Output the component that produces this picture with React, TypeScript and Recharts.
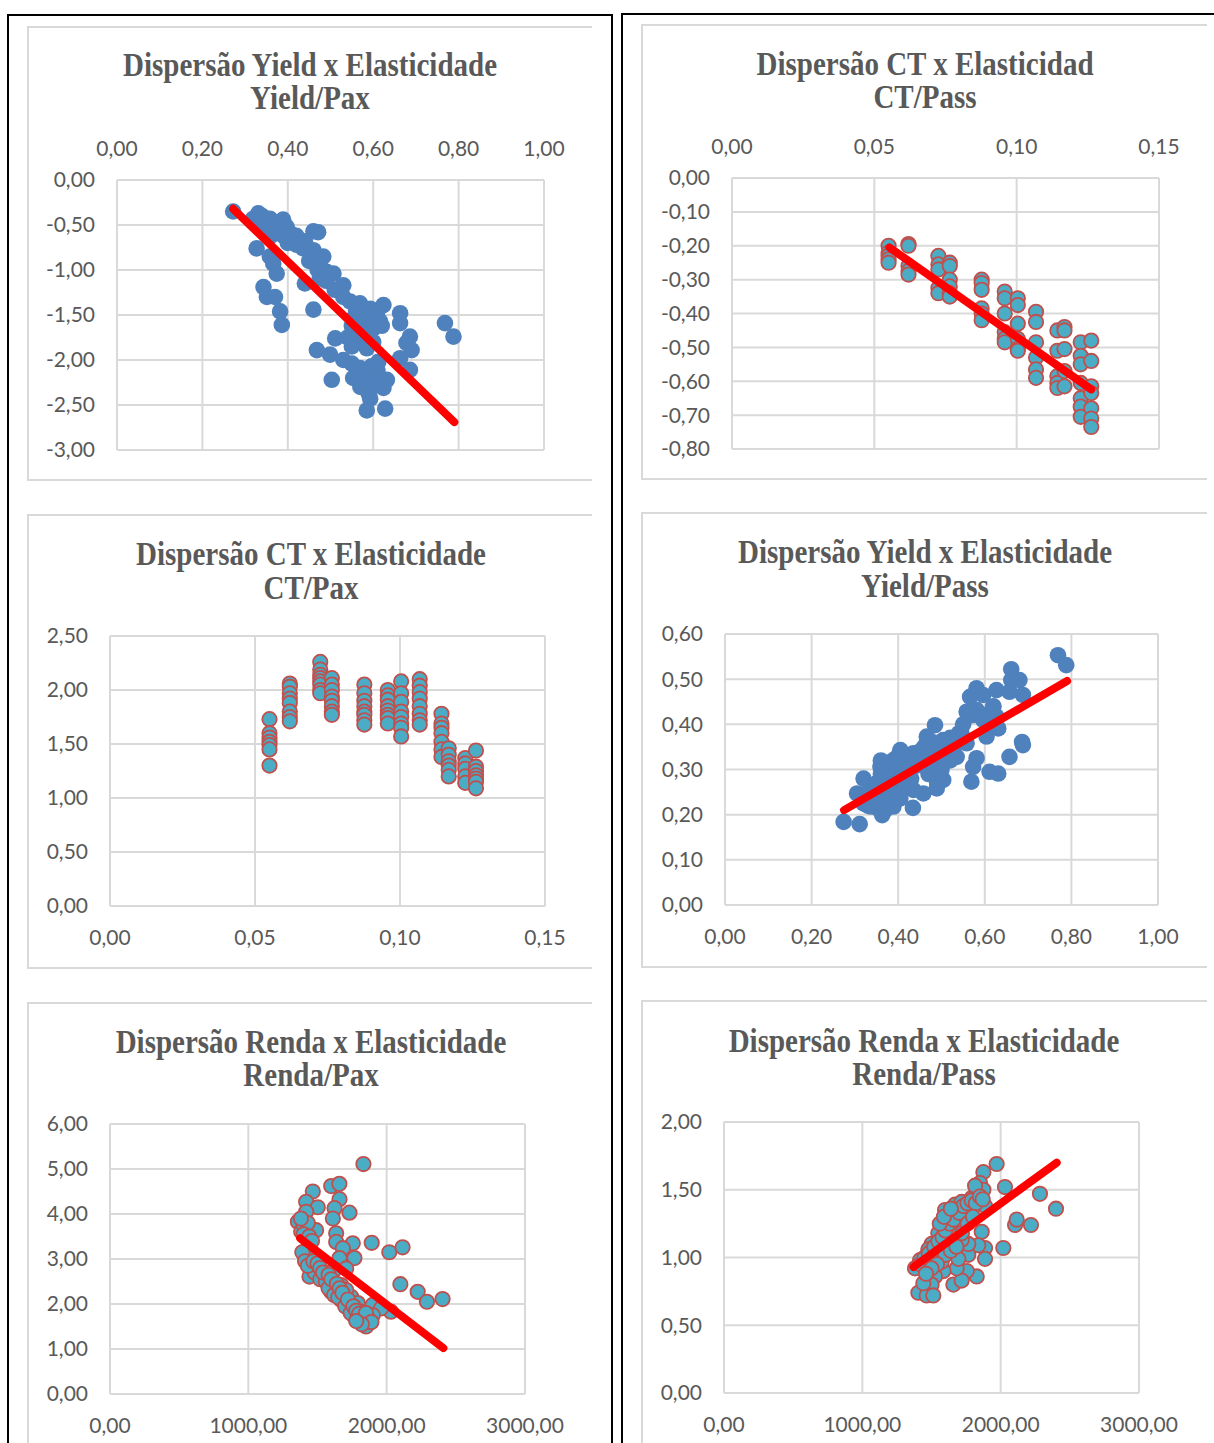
import React from 'react';
import { ScatterChart, Scatter, XAxis, YAxis, CartesianGrid } from 'recharts';

type Pt = [number, number];

// Yield x Elasticidade Yield/Pax
const yieldPaxPoints: Pt[] = [
  [0.272, -0.35], [0.331, -0.37], [0.358, -0.43], [0.389, -0.44], [0.397, -0.52], [0.382, -0.57],
  [0.405, -0.59], [0.351, -0.5], [0.319, -0.43], [0.366, -0.54], [0.413, -0.67], [0.46, -0.57],
  [0.471, -0.58], [0.327, -0.76], [0.358, -0.85], [0.374, -1.04], [0.366, -0.93], [0.421, -0.72],
  [0.436, -0.76], [0.46, -0.78], [0.483, -0.85], [0.475, -0.94], [0.491, -1.02], [0.507, -1.04],
  [0.44, -1.15], [0.475, -1.09], [0.53, -1.17], [0.343, -1.19], [0.351, -1.3], [0.37, -1.3],
  [0.382, -1.46], [0.386, -1.61], [0.46, -1.44], [0.546, -1.35], [0.569, -1.37], [0.593, -1.43],
  [0.624, -1.39], [0.608, -1.5], [0.616, -1.57], [0.553, -1.54], [0.577, -1.63], [0.6, -1.65],
  [0.663, -1.48], [0.663, -1.59], [0.686, -1.74], [0.678, -1.81], [0.69, -1.89], [0.768, -1.59],
  [0.788, -1.74], [0.468, -1.89], [0.499, -1.94], [0.511, -1.76], [0.53, -2.0], [0.55, -2.04],
  [0.569, -2.09], [0.596, -2.07], [0.612, -2.02], [0.503, -2.22], [0.553, -2.2], [0.577, -2.24],
  [0.608, -2.2], [0.624, -2.31], [0.632, -2.22], [0.663, -1.98], [0.686, -2.11], [0.593, -2.43],
  [0.585, -2.56], [0.628, -2.54], [0.569, -1.8], [0.585, -1.87], [0.34, -0.4], [0.37, -0.47],
  [0.39, -0.62], [0.4, -0.7], [0.36, -0.62], [0.45, -0.9], [0.47, -1.0], [0.49, -1.12],
  [0.51, -1.22], [0.53, -1.3], [0.56, -1.45], [0.58, -1.55], [0.56, -1.7], [0.58, -1.75],
  [0.6, -1.8], [0.58, -2.15], [0.6, -2.28], [0.57, -2.3], [0.61, -2.12], [0.59, -2.38],
  [0.35, -0.45], [0.38, -0.5], [0.42, -0.62], [0.44, -0.68], [0.33, -0.5],
  [0.57, -1.47], [0.59, -1.52], [0.61, -1.45], [0.55, -1.62], [0.57, -1.7], [0.59, -1.78],
  [0.62, -1.62], [0.54, -1.75], [0.55, -1.85],
];
const yieldPaxTrend: Pt[] = [[0.272, -0.32], [0.79, -2.69]];

// CT columns (same CT values in both CT charts)
const ctValues = [0.055, 0.062, 0.0725, 0.0765, 0.0877, 0.0958, 0.1004, 0.1068, 0.1143, 0.1168, 0.1225, 0.1262];

const ctPassByColumn: number[][] = [
  [-0.2, -0.22, -0.23, -0.24, -0.25],
  [-0.195, -0.2, -0.26, -0.275, -0.285],
  [-0.23, -0.255, -0.27, -0.325, -0.34],
  [-0.25, -0.26, -0.3, -0.32, -0.34, -0.35],
  [-0.3, -0.31, -0.33, -0.385, -0.4, -0.42],
  [-0.335, -0.355, -0.4, -0.455, -0.475, -0.485],
  [-0.355, -0.375, -0.43, -0.475, -0.505, -0.51],
  [-0.395, -0.425, -0.485, -0.53, -0.565, -0.59],
  [-0.45, -0.51, -0.585, -0.605, -0.62],
  [-0.44, -0.45, -0.505, -0.57, -0.615],
  [-0.485, -0.525, -0.55, -0.605, -0.65, -0.675, -0.705],
  [-0.48, -0.54, -0.615, -0.635, -0.68, -0.71, -0.735],
];
const ctPassTrend: Pt[] = [[0.0553, -0.205], [0.1262, -0.624]];

const ctPaxByColumn: number[][] = [
  [1.73, 1.6, 1.56, 1.52, 1.49, 1.45, 1.3],
  [2.06, 2.03, 1.97, 1.92, 1.88, 1.8, 1.75, 1.71],
  [2.26, 2.19, 2.14, 2.11, 2.08, 2.05, 2.0, 1.97],
  [2.11, 2.05, 2.0, 1.94, 1.9, 1.85, 1.8, 1.77],
  [2.05, 1.97, 1.9, 1.85, 1.8, 1.77, 1.72, 1.68],
  [2.0, 1.95, 1.91, 1.85, 1.81, 1.77, 1.74, 1.69],
  [2.08, 1.97, 1.89, 1.8, 1.75, 1.69, 1.65, 1.57],
  [2.1, 2.04, 1.98, 1.92, 1.85, 1.78, 1.72, 1.68],
  [1.78, 1.69, 1.65, 1.6, 1.52, 1.45, 1.38],
  [1.46, 1.4, 1.34, 1.3, 1.26, 1.2],
  [1.37, 1.32, 1.27, 1.2, 1.14],
  [1.44, 1.29, 1.25, 1.21, 1.18, 1.15, 1.09],
];

// Yield x Elasticidade Yield/Pass
const yieldPassPoints: Pt[] = [
  [0.274, 0.184], [0.311, 0.179], [0.769, 0.553], [0.788, 0.531], [0.661, 0.522], [0.661, 0.498],
  [0.68, 0.498], [0.657, 0.472], [0.688, 0.465], [0.581, 0.48], [0.566, 0.461], [0.596, 0.465],
  [0.627, 0.476], [0.558, 0.428], [0.581, 0.432], [0.619, 0.439], [0.627, 0.417], [0.596, 0.41],
  [0.631, 0.391], [0.604, 0.373], [0.546, 0.38], [0.558, 0.358], [0.485, 0.398], [0.466, 0.373],
  [0.504, 0.365], [0.527, 0.35], [0.688, 0.354], [0.686, 0.361], [0.657, 0.328], [0.581, 0.325],
  [0.573, 0.306], [0.611, 0.295], [0.631, 0.291], [0.569, 0.273], [0.535, 0.328], [0.405, 0.343],
  [0.389, 0.321], [0.435, 0.336], [0.474, 0.306], [0.504, 0.277], [0.489, 0.258], [0.458, 0.247],
  [0.435, 0.255], [0.32, 0.28], [0.305, 0.247], [0.359, 0.306], [0.374, 0.277], [0.351, 0.251],
  [0.405, 0.236], [0.389, 0.218], [0.363, 0.199], [0.336, 0.218], [0.32, 0.225], [0.363, 0.244],
  [0.351, 0.215], [0.434, 0.215], [0.33, 0.25], [0.37, 0.28], [0.39, 0.31], [0.42, 0.32],
  [0.45, 0.34], [0.47, 0.33], [0.5, 0.35], [0.52, 0.37], [0.54, 0.38], [0.36, 0.26],
  [0.4, 0.29], [0.43, 0.3], [0.47, 0.29], [0.49, 0.27], [0.45, 0.31],
  [0.34, 0.23], [0.35, 0.27], [0.38, 0.24], [0.38, 0.3], [0.4, 0.33], [0.41, 0.27],
  [0.42, 0.26], [0.36, 0.29], [0.33, 0.22], [0.37, 0.21], [0.39, 0.26], [0.41, 0.3],
  [0.44, 0.32], [0.46, 0.35], [0.48, 0.36], [0.49, 0.33], [0.51, 0.36], [0.53, 0.36],
  [0.55, 0.4], [0.57, 0.42], [0.6, 0.42], [0.62, 0.44], [0.5, 0.3], [0.52, 0.32],
  [0.43, 0.28], [0.36, 0.32],
];
const yieldPassTrend: Pt[] = [[0.275, 0.21], [0.79, 0.496]];

// Renda x Elasticidade Renda/Pax
const rendaPaxPoints: Pt[] = [
  [1832, 5.11], [1599, 4.62], [1658, 4.67], [1466, 4.5], [1418, 4.27], [1502, 4.15], [1659, 4.33],
  [1623, 4.13], [1731, 4.03], [1611, 3.9], [1418, 4.05], [1358, 3.83], [1442, 3.68], [1382, 3.61],
  [1490, 3.64], [1635, 3.57], [1635, 3.38], [1755, 3.35], [1892, 3.36], [2019, 3.15], [2115, 3.26],
  [1683, 3.24], [1767, 3.02], [1659, 3.02], [1406, 3.09], [1455, 2.9], [1502, 2.76], [1442, 2.61],
  [1550, 2.64], [1623, 2.76], [1707, 2.79], [1599, 2.46], [1671, 2.42], [1599, 2.27], [2099, 2.44],
  [2224, 2.27], [2291, 2.05], [2404, 2.11], [1671, 2.09], [1743, 2.16], [1791, 2.02], [1731, 1.87],
  [1767, 1.72], [1839, 1.72], [1887, 1.61], [1851, 1.5], [1899, 1.98], [2031, 1.83], [1959, 1.9],
  [1815, 1.83], [1707, 2.31], [1460, 2.8], [1480, 2.7], [1520, 2.55], [1560, 2.5], [1580, 2.35],
  [1620, 2.2], [1650, 2.15], [1700, 1.95], [1740, 1.8], [1790, 1.7], [1820, 1.65], [1860, 1.6],
  [1880, 1.7], [1900, 1.75], [1420, 3.2], [1440, 3.0], [1400, 3.75], [1430, 3.8],
  [1390, 3.15], [1410, 2.95], [1430, 2.85], [1470, 2.95], [1500, 2.9], [1520, 2.8], [1540, 2.7],
  [1580, 2.65], [1600, 2.55], [1640, 2.45], [1660, 2.35], [1680, 2.25], [1720, 2.1], [1760, 1.95],
  [1780, 1.85], [1800, 1.78], [1840, 1.7], [1870, 1.65], [1850, 1.8], [1890, 1.6], [1820, 1.55],
  [1780, 1.62], [1400, 3.55], [1440, 3.5], [1460, 3.4], [1380, 3.9],
];
const rendaPaxTrend: Pt[] = [[1375, 3.46], [2410, 1.02]];

// Renda x Elasticidade Renda/Pass
const rendaPassPoints: Pt[] = [
  [1971, 1.69], [1875, 1.63], [1851, 1.55], [2031, 1.52], [2284, 1.47], [2400, 1.36], [2104, 1.24],
  [2116, 1.28], [2219, 1.24], [2019, 1.07], [1887, 1.07], [1887, 0.99], [1863, 1.19], [1838, 1.09],
  [1766, 1.02], [1827, 0.86], [1755, 0.9], [1658, 0.8], [1718, 0.83], [1682, 0.92], [1586, 0.9],
  [1525, 0.86], [1501, 0.8], [1405, 0.74], [1465, 0.72], [1513, 0.72], [1441, 0.81], [1381, 0.92],
  [1417, 0.98], [1537, 1.01], [1598, 1.06], [1694, 0.99], [1766, 1.1], [1549, 1.18], [1646, 1.22],
  [1622, 1.29], [1694, 1.3], [1670, 1.39], [1755, 1.35], [1791, 1.44], [1827, 1.47], [1875, 1.5],
  [1887, 1.38], [1501, 1.1], [1477, 1.06], [1598, 1.35], [1718, 1.41], [1815, 1.53], [1718, 1.13],
  [1646, 1.12], [1574, 0.97],
  [1420, 0.95], [1450, 1.0], [1480, 1.03], [1520, 1.08], [1550, 1.12], [1580, 1.15], [1600, 1.2],
  [1630, 1.25], [1660, 1.28], [1700, 1.33], [1730, 1.38], [1760, 1.4], [1790, 1.42], [1820, 1.4],
  [1850, 1.45], [1870, 1.43], [1600, 1.02], [1640, 1.05], [1680, 1.08], [1720, 1.18], [1760, 1.25],
  [1800, 1.3], [1540, 0.95], [1500, 0.92], [1460, 0.88], [1560, 1.25], [1590, 1.3], [1640, 1.36],
];
const rendaPassTrend: Pt[] = [[1370, 0.93], [2405, 1.7]];

const ticksYield = [0, 0.2, 0.4, 0.6, 0.8, 1.0];
const ticksCT = [0, 0.05, 0.1, 0.15];
const ticksRenda = [0, 1000, 2000, 3000];
const ticksYieldPax = [-3, -2.5, -2, -1.5, -1, -0.5, 0];
const ticksCTPass = [-0.8, -0.7, -0.6, -0.5, -0.4, -0.3, -0.2, -0.1, 0];
const ticksCTPax = [0, 0.5, 1, 1.5, 2, 2.5];
const ticksYieldPass = [0, 0.1, 0.2, 0.3, 0.4, 0.5, 0.6];
const ticksRendaPax = [0, 1, 2, 3, 4, 5, 6];
const ticksRendaPass = [0, 0.5, 1, 1.5, 2];

const byColumn = (cols: number[], vals: number[][]): Pt[] =>
  cols.flatMap((x, i) => vals[i].map((y) => [x, y] as Pt));

const GRID = '#D9D9D9';
const TEXT = '#595959';
const fmt = (v: number) => v.toFixed(2).replace('.', ',');

interface Plot { x0: number; y0: number; x1: number; y1: number }

interface ChartProps {
  plot: Plot;
  xTicks: number[];
  yTicks: number[];
  xTop?: boolean;
  points: Pt[];
  trend?: Pt[];
  blue?: boolean;
}

function DispersionChart({ plot, xTicks, yTicks, xTop, points, trend, blue }: ChartProps) {
  const L = 100, R = 40, T = 70, B = 70;
  const w = plot.x1 - plot.x0 + L + R;
  const h = plot.y1 - plot.y0 + T + B;
  const tick = { fill: TEXT, fontSize: 21, fontFamily: 'Lato, sans-serif' };
  const axisLine = { stroke: GRID, strokeWidth: 2 };
  const dot = (p: any) =>
    blue ? (
      <circle cx={p.cx} cy={p.cy} r={8.3} fill="#4F81BD" />
    ) : (
      <circle cx={p.cx} cy={p.cy} r={7.2} fill="#4BACC6" stroke="#C0504D" strokeWidth={1.8} />
    );
  return (
    <div style={{ position: 'absolute', left: plot.x0 - L, top: plot.y0 - T }}>
      <ScatterChart
        width={w}
        height={h}
        margin={{ top: xTop ? T - 50 : T, right: R, bottom: xTop ? B : B - 50, left: 10 }}
      >
        <CartesianGrid stroke={GRID} strokeWidth={2} />
        <XAxis
          type="number"
          dataKey="x"
          domain={[xTicks[0], xTicks[xTicks.length - 1]]}
          ticks={xTicks}
          interval={0}
          orientation={xTop ? 'top' : 'bottom'}
          height={50}
          axisLine={axisLine}
          tickLine={false}
          tickSize={0}
          tickMargin={24}
          tick={tick}
          tickFormatter={fmt}
          allowDataOverflow
        />
        <YAxis
          type="number"
          dataKey="y"
          domain={[yTicks[0], yTicks[yTicks.length - 1]]}
          ticks={yTicks}
          interval={0}
          width={90}
          axisLine={axisLine}
          tickLine={false}
          tickSize={0}
          tickMargin={22}
          tick={tick}
          tickFormatter={fmt}
          allowDataOverflow
        />
        <Scatter data={points.map(([x, y]) => ({ x, y }))} shape={dot} isAnimationActive={false} />
        {trend && (
          <Scatter
            data={trend.map(([x, y]) => ({ x, y }))}
            line={{ stroke: '#FF0000', strokeWidth: 8, strokeLinecap: 'round' }}
            shape={() => <g />}
            isAnimationActive={false}
          />
        )}
      </ScatterChart>
    </div>
  );
}

function Title({ cx, y, lines }: { cx: number; y: number; lines: string[] }) {
  return (
    <div
      style={{
        position: 'absolute',
        left: cx - 300,
        top: y - 17,
        width: 600,
        textAlign: 'center',
        fontFamily: '"Liberation Serif", serif',
        fontWeight: 'bold',
        fontSize: 29,
        lineHeight: '34px',
        color: TEXT,
      }}
    >
      {lines.map((l) => (
        <div key={l} style={{ transform: 'scaleY(1.15)', transformOrigin: 'center center' }}>
          {l}
        </div>
      ))}
    </div>
  );
}

function PanelFrame({ left, top, right, bottom }: { left: number; top: number; right: number; bottom: number }) {
  return (
    <div
      style={{
        position: 'absolute',
        left,
        top,
        width: right - left,
        height: bottom - top,
        boxSizing: 'border-box',
        borderLeft: `2px solid ${GRID}`,
        borderTop: `2px solid ${GRID}`,
        borderBottom: `2px solid ${GRID}`,
      }}
    />
  );
}

export default function App() {
  return (
    <div
      style={{
        position: 'absolute',
        left: 0,
        top: 0,
        width: 1214,
        height: 1443,
        overflow: 'hidden',
        background: '#fff',
      }}
    >
      <div style={{ position: 'absolute', left: 7, top: 14, width: 606, height: 1500, border: '2px solid #000', boxSizing: 'border-box' }} />
      <div style={{ position: 'absolute', left: 621, top: 13, width: 700, height: 1500, border: '2px solid #000', boxSizing: 'border-box' }} />

      <PanelFrame left={27} top={26} right={592} bottom={481} />
      <PanelFrame left={641} top={24} right={1207} bottom={480} />
      <PanelFrame left={27} top={514} right={592} bottom={969} />
      <PanelFrame left={641} top={512} right={1207} bottom={968} />
      <PanelFrame left={27} top={1002} right={592} bottom={1500} />
      <PanelFrame left={641} top={1000} right={1207} bottom={1500} />

      <Title cx={310} y={64} lines={['Dispersão Yield x Elasticidade', 'Yield/Pax']} />
      <Title cx={925} y={63} lines={['Dispersão CT x Elasticidad', 'CT/Pass']} />
      <Title cx={311} y={553} lines={['Dispersão CT x Elasticidade', 'CT/Pax']} />
      <Title cx={925} y={551} lines={['Dispersão Yield x Elasticidade', 'Yield/Pass']} />
      <Title cx={311} y={1041} lines={['Dispersão Renda x Elasticidade', 'Renda/Pax']} />
      <Title cx={924} y={1040} lines={['Dispersão Renda x Elasticidade', 'Renda/Pass']} />

      <DispersionChart
        plot={{ x0: 117, y0: 180, x1: 544, y1: 450 }}
        xTicks={ticksYield}
        yTicks={ticksYieldPax}
        xTop
        points={yieldPaxPoints}
        trend={yieldPaxTrend}
        blue
      />
      <DispersionChart
        plot={{ x0: 732, y0: 178, x1: 1159, y1: 449 }}
        xTicks={ticksCT}
        yTicks={ticksCTPass}
        xTop
        points={byColumn(ctValues, ctPassByColumn)}
        trend={ctPassTrend}
      />
      <DispersionChart
        plot={{ x0: 110, y0: 636, x1: 545, y1: 906 }}
        xTicks={ticksCT}
        yTicks={ticksCTPax}
        points={byColumn(ctValues, ctPaxByColumn)}
      />
      <DispersionChart
        plot={{ x0: 725, y0: 634, x1: 1158, y1: 905 }}
        xTicks={ticksYield}
        yTicks={ticksYieldPass}
        points={yieldPassPoints}
        trend={yieldPassTrend}
        blue
      />
      <DispersionChart
        plot={{ x0: 110, y0: 1124, x1: 525, y1: 1394 }}
        xTicks={ticksRenda}
        yTicks={ticksRendaPax}
        points={rendaPaxPoints}
        trend={rendaPaxTrend}
      />
      <DispersionChart
        plot={{ x0: 724, y0: 1122, x1: 1139, y1: 1393 }}
        xTicks={ticksRenda}
        yTicks={ticksRendaPass}
        points={rendaPassPoints}
        trend={rendaPassTrend}
      />
    </div>
  );
}
